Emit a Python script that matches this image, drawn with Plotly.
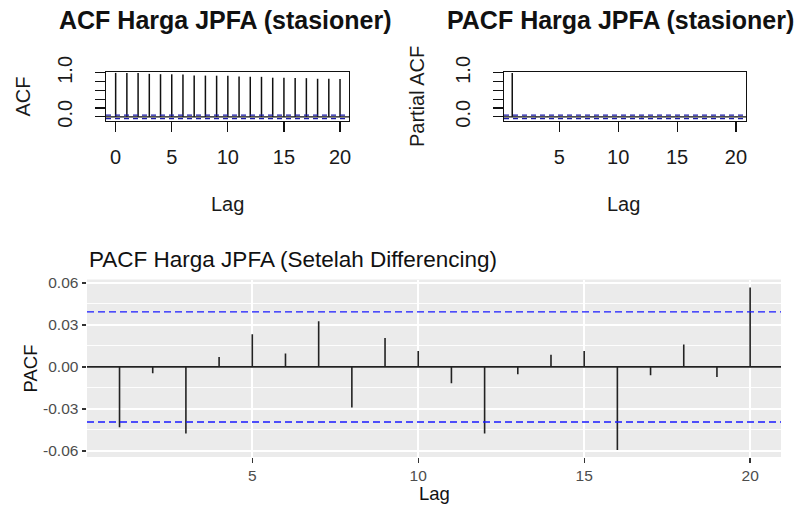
import plotly.graph_objects as go

# ---------------- data ----------------
acf_lags = list(range(0, 21))
acf_vals = [1.000, 0.998, 0.996, 0.978, 0.970, 0.968, 0.962, 0.940, 0.938, 0.936,
            0.934, 0.920, 0.912, 0.910, 0.890, 0.888, 0.886, 0.880, 0.866, 0.864, 0.862]

pacf_lags = list(range(1, 21))
pacf_vals = [0.995, 0.010, -0.008, 0.006, -0.005, 0.004, -0.006, 0.007, 0.005, -0.004,
             0.006, -0.007, 0.004, 0.005, -0.006, 0.008, -0.004, 0.005, -0.005, 0.006]

diff_lags = list(range(1, 21))
diff_pacf = [-0.0430, -0.0046, -0.0475, 0.0070, 0.0233, 0.0096, 0.0326, -0.0290, 0.0206, 0.0113,
             -0.0116, -0.0475, -0.0053, 0.0086, 0.0113, -0.0593, -0.0060, 0.0160, -0.0072, 0.0567]

conf_limit = 0.0393

top_xticks_acf = [0, 5, 10, 15, 20]
top_xticks_pacf = [5, 10, 15, 20]
top_yticks = [0.0, 0.2, 0.4, 0.6, 0.8, 1.0]
top_yticktext = ["0.0", "", "", "", "", "1.0"]
bot_xticks = [5, 10, 15, 20]
bot_yticks = [-0.06, -0.03, 0.0, 0.03, 0.06]
bot_yticktext = ["-0.06", "-0.03", "0.00", "0.03", "0.06"]

titles = ["ACF Harga JPFA (stasioner)", "PACF Harga JPFA (stasioner)",
          "PACF Harga JPFA (Setelah Differencing)"]

W, H = 800, 506
FONT = "Liberation Sans, Arial, sans-serif"


def px(x):
    return x / W


def py(y):
    return 1 - y / H


def stems(xs, ys):
    sx, sy = [], []
    for a, b in zip(xs, ys):
        sx += [a, a, None]
        sy += [0, b, None]
    return sx, sy


fig = go.Figure()

sx, sy = stems(acf_lags, acf_vals)
fig.add_trace(go.Scatter(x=sx, y=sy, mode="lines", line=dict(color="#111111", width=1.5),
                         xaxis="x", yaxis="y", showlegend=False, hoverinfo="skip"))
sx, sy = stems(pacf_lags, pacf_vals)
fig.add_trace(go.Scatter(x=sx, y=sy, mode="lines", line=dict(color="#111111", width=1.5),
                         xaxis="x2", yaxis="y2", showlegend=False, hoverinfo="skip"))
sx, sy = stems(diff_lags, diff_pacf)
fig.add_trace(go.Scatter(x=sx, y=sy, mode="lines", line=dict(color="#222222", width=1.6),
                         xaxis="x3", yaxis="y3", showlegend=False, hoverinfo="skip"))

top_dom_y = [py(121), py(72)]
tick_font_top = dict(family=FONT, size=20, color="#1a1a1a")
top_axis_common = dict(showline=True, mirror=True, linecolor="#111111", linewidth=1.2,
                       ticks="outside", ticklen=10, tickwidth=1.2, tickcolor="#111111",
                       showgrid=False, zeroline=False, tickfont=tick_font_top, automargin=False)

fig.update_layout(
    template="none",
    width=W, height=H, autosize=False,
    margin=dict(l=0, r=0, t=0, b=0, pad=0),
    paper_bgcolor="white", plot_bgcolor="white",
    showlegend=False,
    xaxis=dict(domain=[px(106), px(349)], range=[-0.86, 20.8], tickvals=top_xticks_acf,
               ticklabelstandoff=8, anchor="y", **top_axis_common),
    yaxis=dict(domain=top_dom_y, range=[-0.095, 1.02], tickvals=top_yticks, ticktext=top_yticktext,
               tickangle=-90, ticklabelstandoff=15, anchor="x", **top_axis_common),
    xaxis2=dict(domain=[px(504), px(746)], range=[0.3, 20.85], tickvals=top_xticks_pacf,
                ticklabelstandoff=8, anchor="y2", **top_axis_common),
    yaxis2=dict(domain=top_dom_y, range=[-0.095, 1.02], tickvals=top_yticks, ticktext=top_yticktext,
                tickangle=-90, ticklabelstandoff=15, anchor="x2", **top_axis_common),
    xaxis3=dict(domain=[px(87), px(781)], range=[0.02, 20.93], tickvals=bot_xticks,
                showgrid=True, gridcolor="white", gridwidth=1.8, zeroline=False,
                ticks="outside", ticklen=4.5, tickwidth=1.3, tickcolor="#333333",
                tickfont=dict(family=FONT, size=15.5, color="#4D4D4D"), anchor="y3",
                showline=False, automargin=False),
    yaxis3=dict(domain=[py(457), py(279.5)], range=[-0.0643, 0.0624], tickvals=bot_yticks,
                ticktext=bot_yticktext,
                showgrid=True, gridcolor="white", gridwidth=1.8, zeroline=False,
                minor=dict(tickvals=[-0.045, -0.015, 0.015, 0.045], showgrid=True,
                           gridcolor="white", gridwidth=0.9, ticks=""),
                ticks="outside", ticklen=4.5, tickwidth=1.3, tickcolor="#333333",
                tickfont=dict(family=FONT, size=15.5, color="#4D4D4D"), anchor="x3",
                showline=False, automargin=False),
)

shapes = []
# grey panel for the bottom chart
shapes.append(dict(type="rect", xref="x3 domain", yref="y3 domain", x0=0, x1=1, y0=0, y1=1,
                   fillcolor="#EBEBEB", line=dict(width=0), layer="below"))
# zero lines
for xr, yr, col, w in [("x domain", "y", "#111111", 1.2), ("x2 domain", "y2", "#111111", 1.2),
                       ("x3 domain", "y3", "#222222", 1.6)]:
    shapes.append(dict(type="line", xref=xr, yref=yr, x0=0, x1=1, y0=0, y1=0,
                       line=dict(color=col, width=w), layer="above"))
# confidence limits
for xr, yr, col, dash, w in [("x domain", "y", "#1c1ca8", "5px,4px", 1.2),
                             ("x2 domain", "y2", "#1c1ca8", "5px,4px", 1.2),
                             ("x3 domain", "y3", "#1a1aff", "7px,4px", 1.4)]:
    for s in (1, -1):
        shapes.append(dict(type="line", xref=xr, yref=yr, x0=0, x1=1,
                           y0=s * conf_limit, y1=s * conf_limit,
                           line=dict(color=col, width=w, dash=dash), layer="above"))
fig.update_layout(shapes=shapes)

ann = []
# titles
ann.append(dict(text="<b>" + titles[0] + "</b>", x=px(225), y=py(20), xref="paper", yref="paper",
                xanchor="center", yanchor="middle", showarrow=False,
                font=dict(family=FONT, size=25, color="#111111")))
ann.append(dict(text="<b>" + titles[1] + "</b>", x=px(620), y=py(20), xref="paper", yref="paper",
                xanchor="center", yanchor="middle", showarrow=False,
                font=dict(family=FONT, size=25, color="#111111")))
ann.append(dict(text=titles[2], x=px(87), y=py(259), xref="paper", yref="paper",
                xanchor="left", yanchor="middle", showarrow=False,
                font=dict(family=FONT, size=22.5, color="#111111")))
# axis titles top
ann.append(dict(text="Lag", x=px(227), y=py(204), xref="paper", yref="paper",
                xanchor="center", yanchor="middle", showarrow=False,
                font=dict(family=FONT, size=20, color="#1a1a1a")))
ann.append(dict(text="Lag", x=px(623), y=py(204), xref="paper", yref="paper",
                xanchor="center", yanchor="middle", showarrow=False,
                font=dict(family=FONT, size=20, color="#1a1a1a")))
ann.append(dict(text="ACF", x=px(22.5), y=py(97), xref="paper", yref="paper", textangle=-90,
                xanchor="center", yanchor="middle", showarrow=False,
                font=dict(family=FONT, size=20, color="#1a1a1a")))
ann.append(dict(text="Partial ACF", x=px(417), y=py(97), xref="paper", yref="paper", textangle=-90,
                xanchor="center", yanchor="middle", showarrow=False,
                font=dict(family=FONT, size=20, color="#1a1a1a")))
# axis titles bottom
ann.append(dict(text="Lag", x=px(434), y=py(493), xref="paper", yref="paper",
                xanchor="center", yanchor="middle", showarrow=False,
                font=dict(family=FONT, size=18.5, color="#111111")))
ann.append(dict(text="PACF", x=px(29.5), y=py(369), xref="paper", yref="paper", textangle=-90,
                xanchor="center", yanchor="middle", showarrow=False,
                font=dict(family=FONT, size=18.5, color="#111111")))
fig.update_layout(annotations=ann)

fig.write_html("out.html", config={"displayModeBar": False, "staticPlot": True},
               post_script="document.body.style.margin='0';document.body.style.overflow='hidden';")
